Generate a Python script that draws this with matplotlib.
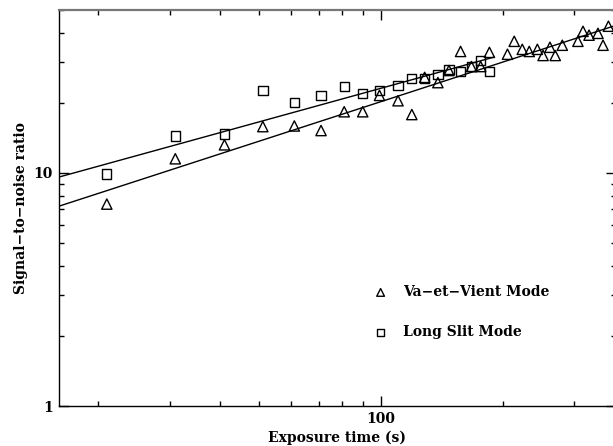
import numpy as np
import matplotlib
matplotlib.use("Agg")
import matplotlib.pyplot as plt
from matplotlib.ticker import LogLocator, NullFormatter, FixedLocator, FixedFormatter

# Va-et-Vient mode (triangles)
vv_time = [21, 31, 41, 51, 61, 71, 81, 90, 99, 110, 119, 128, 138, 147, 157,
           167, 176, 185, 205, 213, 223, 232, 243, 251, 261, 269, 280, 306,
           315, 326, 343, 353, 364]
vv_snr = [7.35, 11.5, 13.2, 15.8, 15.9, 15.2, 18.3, 18.3, 21.5, 20.4, 17.8,
          25.7, 24.4, 27.5, 33.2, 28.6, 28.6, 32.9, 32.3, 36.7, 33.9, 33.2,
          33.9, 31.9, 34.6, 31.9, 35.3, 36.7, 40.5, 39.0, 39.7, 35.3, 42.6]

# Long slit mode (squares)
ls_time = [21, 31, 41, 51, 61, 71, 81, 90, 99, 110, 119, 128, 138, 147, 157,
           167, 176, 185]
ls_snr = [9.9, 14.4, 14.7, 22.6, 20.0, 21.5, 23.5, 21.9, 22.6, 23.7, 25.4,
          25.4, 26.5, 27.8, 27.3, 28.6, 30.4, 27.3]

# power-law fits: snr = a * (t / 16) ** b
vv_fit = (7.2, 0.564, 16, 380)
ls_fit = (9.6, 0.479, 16, 190)

fig = plt.figure(figsize=(6.13, 4.46), dpi=100)
ax = fig.add_axes([59 / 613, 40 / 446, 557 / 613, 396 / 446])

font = dict(family="DejaVu Serif", weight="bold", size=10)

ax.scatter(vv_time, vv_snr, marker="^", s=55, facecolors="none",
           edgecolors="black", linewidths=1.0, label="Va\u2212et\u2212Vient Mode",
           clip_on=False, zorder=3)
ax.scatter(ls_time, ls_snr, marker="s", s=45, facecolors="none",
           edgecolors="black", linewidths=1.0, label="Long Slit Mode",
           clip_on=False, zorder=3)

for a, b, t0, t1 in (vv_fit, ls_fit):
    t = np.logspace(np.log10(t0), np.log10(t1), 50)
    ax.plot(t, a * (t / 16) ** b, color="black", lw=1.0)

ax.set_xscale("log")
ax.set_yscale("log")
ax.set_xlim(16, 380)
ax.set_ylim(1, 50)

ax.xaxis.set_major_locator(FixedLocator([100]))
ax.xaxis.set_major_formatter(FixedFormatter(["100"]))
ax.xaxis.set_minor_locator(LogLocator(base=10, subs=np.arange(2, 10)))
ax.xaxis.set_minor_formatter(NullFormatter())
ax.yaxis.set_major_locator(FixedLocator([1, 10]))
ax.yaxis.set_major_formatter(FixedFormatter(["1", "10"]))
ax.yaxis.set_minor_locator(LogLocator(base=10, subs=np.arange(2, 10)))
ax.yaxis.set_minor_formatter(NullFormatter())

ax.tick_params(which="both", direction="in", top=True, right=True,
               width=1.0, color="black")
ax.tick_params(which="major", length=7.2, pad=4.5)
ax.tick_params(which="minor", length=3.6)
for lab in ax.get_xticklabels() + ax.get_yticklabels():
    lab.set_fontfamily("DejaVu Serif")
    lab.set_fontweight("bold")
    lab.set_fontsize(10)

for sp in ax.spines.values():
    sp.set_linewidth(1.0)
ax.spines["top"].set_color("#777777")
ax.spines["top"].set_linewidth(1.6)

ax.set_xlabel("Exposure time (s)", fontdict=font, labelpad=3)
ax.set_ylabel("Signal\u2212to\u2212noise ratio", fontdict=font, labelpad=4)

leg = ax.legend(loc="upper left", bbox_to_anchor=(0.535, 0.33), frameon=False,
                prop=dict(family="DejaVu Serif", weight="bold", size=10),
                markerscale=0.75, handletextpad=0.6, labelspacing=1.85,
                borderpad=0.2)

fig.savefig("out.png", dpi=100)
